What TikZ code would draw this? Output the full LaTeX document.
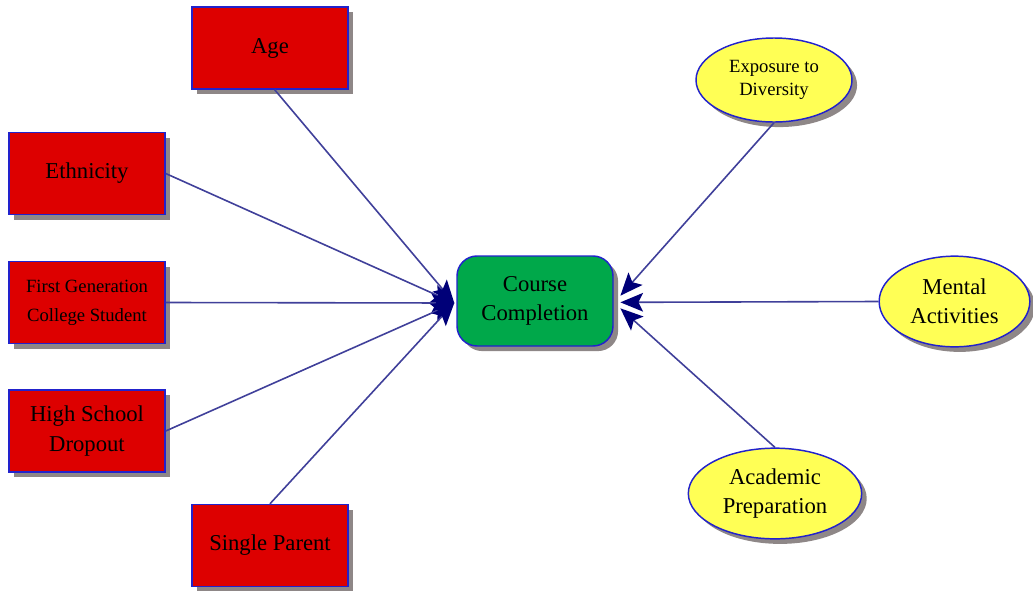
\documentclass[tikz,border=0pt]{standalone}
\usepackage{fontspec}
\setmainfont{Liberation Serif}
\usetikzlibrary{shapes.geometric,shadows,arrows.meta}

\definecolor{boxred}{HTML}{DD0000}
\definecolor{edgeblue}{HTML}{2222CC}
\definecolor{goalgreen}{HTML}{00A84A}
\definecolor{ovalyellow}{HTML}{FFFF55}
\definecolor{linknavy}{HTML}{40409A}
\definecolor{tipnavy}{HTML}{000078}
\definecolor{shadowgray}{HTML}{8E8787}

\tikzset{
  base/.style={draw=edgeblue, line width=1.1pt, text=black, align=center,
    inner sep=0pt, font=\fontsize{17}{22}\selectfont,
    drop shadow={shadow xshift=3.8pt, shadow yshift=-3.8pt, fill=shadowgray, opacity=1}},
  factor/.style={base, rectangle, fill=boxred, minimum width=117pt, minimum height=61.5pt},
  goal/.style={base, rectangle, rounded corners=15pt, fill=goalgreen,
    minimum width=117pt, minimum height=67.5pt},
  trait/.style={base, ellipse, fill=ovalyellow},
  small/.style={font=\fontsize{14}{22}\selectfont},
  smalltight/.style={font=\fontsize{14}{17.5}\selectfont},
  link/.style={draw=linknavy, line width=1.2pt,
    -{Stealth[length=17pt, width=14pt, inset=3.5pt, fill=tipnavy, color=tipnavy]}},
}

\begin{document}
\begin{tikzpicture}[x=0.75pt, y=-0.75pt]
  \useasboundingbox (0,0) rectangle (1033,590);

  % outcome
  \node[goal] (cc) at (535,301) {Course\\Completion};

  % left-hand factors
  \node[factor] (age) at (270,48) {Age};
  \node[factor] (eth) at (87,173.5) {Ethnicity};
  \node[factor, small] (fg) at (87,302.5) {First Generation\\College Student};
  \node[factor] (hs) at (87,431) {High School\\Dropout};
  \node[factor] (sp) at (270,545.5) {Single Parent};

  % right-hand factors
  \node[trait, smalltight, minimum width=117pt, minimum height=63pt] (exp) at (774,80) {Exposure to\\Diversity};
  \node[trait, minimum width=113pt, minimum height=68pt] (ment) at (954.5,301.5) {Mental\\Activities};
  \node[trait, minimum width=130pt, minimum height=68pt] (acad) at (775,493.5) {Academic\\Preparation};

  % arrow targets on the outcome box
  \coordinate (inL) at ([xshift=-1.5pt, yshift=-1.5pt]cc.west);
  \coordinate (inR) at ([xshift=5pt, yshift=-1pt]cc.east);
  \coordinate (inRa) at ([xshift=5pt, yshift=4pt]cc.east);
  \coordinate (inRc) at ([xshift=5pt, yshift=-5.5pt]cc.east);

  % connectors
  \draw[link] ([xshift=3.5pt]age.south) -- (inL);
  \draw[link] (eth.east) -- (inL);
  \draw[link] (fg.east) -- (inL);
  \draw[link] (hs.east) -- (inL);
  \draw[link] (sp.north) -- (inL);
  \draw[link] (exp.south) -- (inRa);
  \draw[link] (ment.west) -- (inR);
  \draw[link] (acad.north) -- (inRc);
\end{tikzpicture}
\end{document}
